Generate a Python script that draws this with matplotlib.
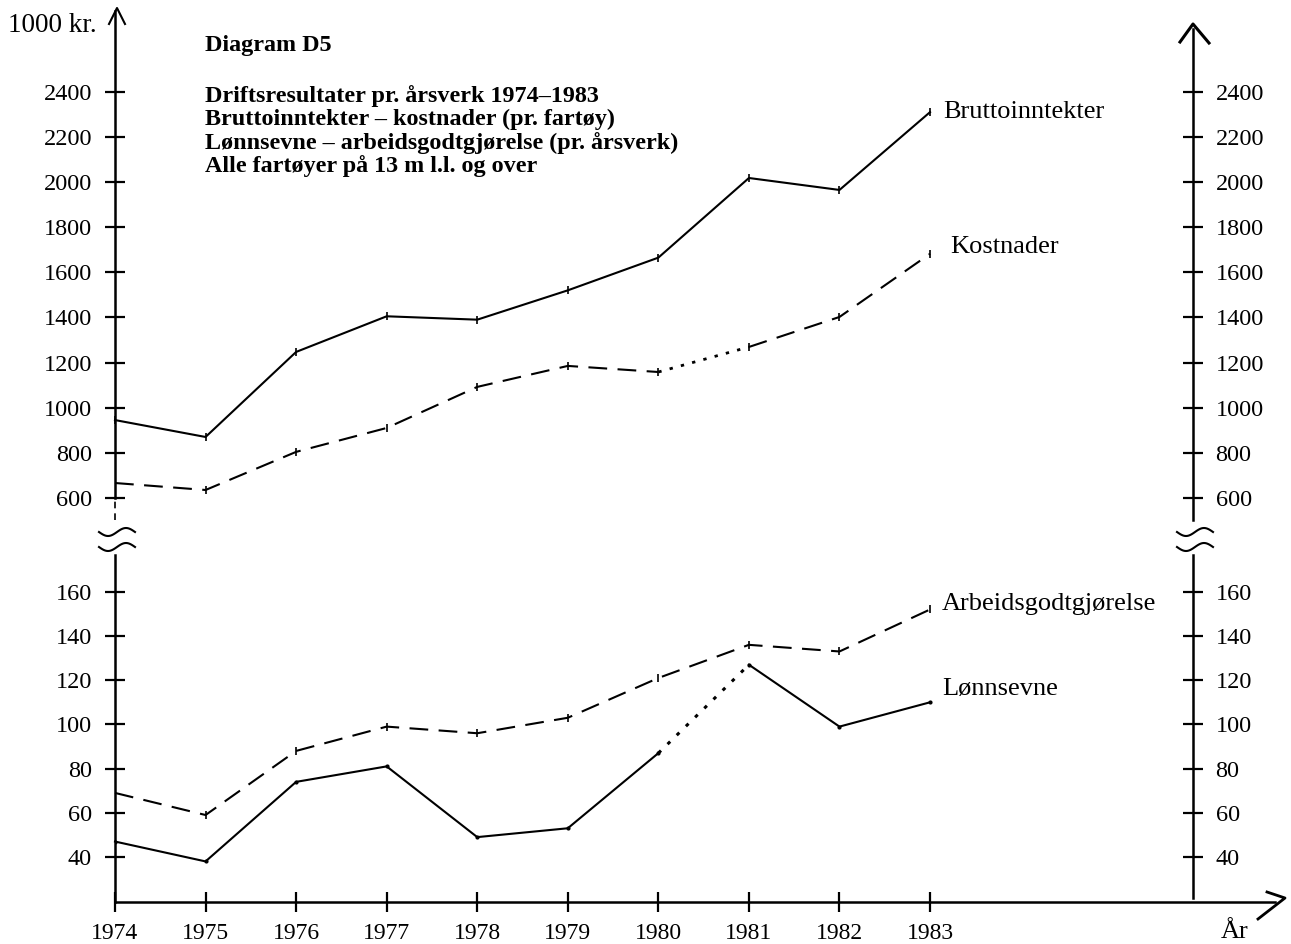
import matplotlib
matplotlib.use("Agg")
import matplotlib.pyplot as plt
from matplotlib.lines import Line2D
import numpy as np

plt.rcParams['font.family'] = ['Liberation Serif', 'DejaVu Serif']

years = [1974, 1975, 1976, 1977, 1978, 1979, 1980, 1981, 1982, 1983]
brutto = [945, 870, 1247, 1405, 1390, 1520, 1665, 2018, 1965, 2310]
kostnader = [666, 635, 804, 910, 1092, 1185, 1158, 1269, 1402, 1682]
arbeid = [69, 59, 88, 99, 96, 103, 121, 136, 133, 152]
lonnsevne = [47, 38, 74, 81, 49, 53, 87, 127, 99, 110]

upper_ticks = [600, 800, 1000, 1200, 1400, 1600, 1800, 2000, 2200, 2400]
lower_ticks = [40, 60, 80, 100, 120, 140, 160]

title_lines = ["Driftsresultater pr. årsverk 1974–1983",
               "Bruttoinntekter – kostnader (pr. fartøy)",
               "Lønnsevne – arbeidsgodtgjørelse (pr. årsverk)",
               "Alle fartøyer på 13 m l.l. og over"]

W, H = 1291, 944
fig = plt.figure(figsize=(W / 100, H / 100), dpi=100)

RIGHT_X = 1985.9
XL = (1974, 1974 + 1160 / 90.56)
ax1 = fig.add_axes([115 / W, 1 - 520 / H, 1160 / W, (520 - 10.6) / H])
ax2 = fig.add_axes([115 / W, 1 - 902 / H, 1160 / W, (902 - 555) / H])
ax1.set_ylim(502, 2760)
ax2.set_ylim(19.64, 176.65)
for ax in (ax1, ax2):
    ax.set_xlim(*XL)
    ax.patch.set_alpha(0)
    ax.spines['top'].set_visible(False)
    ax.spines['right'].set_position(('data', RIGHT_X))
    for s in ax.spines.values():
        s.set_linewidth(1.8)
    ax.yaxis.set_ticks_position('both')
    ax.tick_params(axis='y', which='both', direction='inout', length=14, width=1.6,
                   labelsize=17.5, pad=9.5, labelright=True, labelleft=True)

ax1.spines['bottom'].set_visible(False)
ax1.tick_params(axis='x', bottom=False, labelbottom=False)
ax1.spines['left'].set_bounds(600, 2760)
ax1.spines['right'].set_bounds(502, 2680)
ax1.plot([1974, 1974], [502, 600], color='black', lw=1.2, dashes=(4, 3), clip_on=False)
ax1.set_yticks(upper_ticks)
ax1.set_yticklabels([str(t) for t in upper_ticks])

ax2.spines['right'].set_bounds(21.5, 176.65)
ax2.set_yticks(lower_ticks)
ax2.set_yticklabels([str(t) for t in lower_ticks])
ax2.set_xticks(years)
ax2.set_xticklabels([str(y) for y in years])
ax2.tick_params(axis='x', direction='inout', length=14, width=1.6, labelsize=17, pad=8)

lw = 1.5
dash = (9, 5)
# Bruttoinntekter (solid)
ax1.plot(years, brutto, color='black', lw=lw, marker='|', ms=6, mew=1.2, clip_on=False)
# Kostnader (dashed, dotted 1980-81)
ax1.plot(years[:7], kostnader[:7], color='black', lw=lw, dashes=dash, clip_on=False)
ax1.plot(years[6:8], kostnader[6:8], color='black', lw=2, dashes=(1.2, 3), clip_on=False)
ax1.plot(years[7:], kostnader[7:], color='black', lw=lw, dashes=dash, clip_on=False)
ax1.plot(years, kostnader, ls='none', marker='|', ms=6, mew=1.2, color='black')
# Arbeidsgodtgjørelse (dashed)
ax2.plot(years, arbeid, color='black', lw=lw, dashes=dash, clip_on=False)
ax2.plot(years, arbeid, ls='none', marker='|', ms=6, mew=1.2, color='black')
# Lønnsevne (solid, dotted 1980-81)
ax2.plot(years[:7], lonnsevne[:7], color='black', lw=lw, clip_on=False)
ax2.plot(years[6:8], lonnsevne[6:8], color='black', lw=2.2, dashes=(1.2, 3), clip_on=False)
ax2.plot(years[7:], lonnsevne[7:], color='black', lw=lw, clip_on=False)
ax2.plot(years, lonnsevne, ls='none', marker='.', ms=4, color='black')

lab_kw = dict(textcoords='offset pixels', fontsize=19, va='center', ha='left')
ax1.annotate("Bruttoinntekter", (years[-1], brutto[-1]), xytext=(13, 0), **lab_kw)
ax1.annotate("Kostnader", (years[-1], kostnader[-1]), xytext=(20, 7), **lab_kw)
ax2.annotate("Arbeidsgodtgjørelse", (years[-1], arbeid[-1]), xytext=(12, 5), **lab_kw)
ax2.annotate("Lønnsevne", (years[-1], lonnsevne[-1]), xytext=(12, 13), **lab_kw)

# helpers in pixel coordinates (origin top-left)
def pline(xs, ys, **kw):
    fig.add_artist(Line2D([x / W for x in xs], [1 - y / H for y in ys],
                          transform=fig.transFigure, color='black', **kw))

def ptext(x, y, s, **kw):
    fig.text(x / W, 1 - y / H, s, **kw)

# arrows
pline([109, 117, 125], [24, 8, 24], lw=1.5)
pline([1180, 1193, 1209], [42, 24, 43], lw=2.2)
pline([1267, 1285, 1258], [892, 898, 919], lw=2.0)

# axis break symbols
for cx in (117, 1195):
    for cy in (532, 547):
        t = np.linspace(-1, 1, 40)
        pline(cx + 18 * t, cy - 4 * np.sin(np.pi * t), lw=1.5)

ptext(8, 25, "1000 kr.", fontsize=19.5, va='center', ha='left')
ptext(1221, 932, "År", fontsize=19, va='center', ha='left')
ptext(205, 45, "Diagram D5", fontsize=17.4, fontweight='bold', va='center', ha='left')
for i, line in enumerate(title_lines):
    ptext(205, 96 + i * 23.5, line, fontsize=17.4, fontweight='bold', va='center', ha='left')

fig.savefig("out.png", dpi=100)
